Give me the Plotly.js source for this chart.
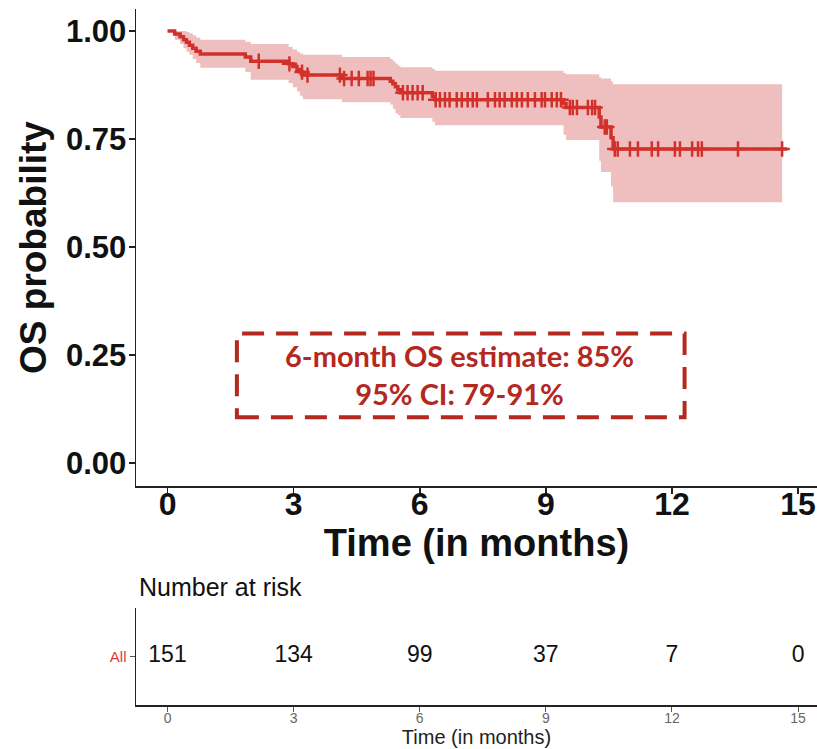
<!DOCTYPE html>
<html>
<head>
<meta charset="utf-8">
<script src="https://cdn.plot.ly/plotly-3.0.1.min.js"></script>
<style>html,body{margin:0;padding:0;background:#fff;}#chart{width:817px;height:749px;}</style>
</head>
<body>
<div id="chart"></div>
<script>
// Kaplan-Meier step curve (time in months, OS probability)
var kmTime = [0, 0.17, 0.3, 0.38, 0.45, 0.52, 0.6, 0.68, 0.78, 1.85, 1.98, 2.88, 2.98, 3.08, 3.15, 3.22, 4.15, 5.3, 5.36, 5.42, 5.48, 5.54, 6.3, 6.36, 9.42, 9.48, 10.27, 10.31, 10.55, 10.6, 14.74];
var kmSurv = [1, 0.993, 0.987, 0.980, 0.974, 0.967, 0.960, 0.953, 0.947, 0.940, 0.930, 0.924, 0.918, 0.911, 0.905, 0.898, 0.890, 0.884, 0.878, 0.871, 0.864, 0.857, 0.849, 0.841, 0.832, 0.823, 0.801, 0.778, 0.753, 0.727, 0.727];
// 95% confidence band
var bandTime = [0, 0.17, 0.3, 0.38, 0.45, 0.52, 0.6, 0.68, 0.78, 1.85, 1.98, 2.88, 2.98, 3.08, 3.15, 3.22, 4.15, 5.3, 5.36, 5.42, 5.48, 5.54, 6.3, 6.36, 9.42, 9.48, 10.27, 10.31, 10.55, 10.6, 14.62];
var bandUpper = [1, 1, 1, 1, 0.998, 0.995, 0.99, 0.985, 0.980, 0.975, 0.970, 0.963, 0.957, 0.952, 0.948, 0.945, 0.940, 0.935, 0.930, 0.925, 0.920, 0.916, 0.912, 0.908, 0.903, 0.900, 0.893, 0.890, 0.883, 0.877, 0.877];
var bandLower = [1, 0.98, 0.97, 0.96, 0.952, 0.945, 0.935, 0.926, 0.915, 0.905, 0.887, 0.880, 0.870, 0.860, 0.850, 0.842, 0.835, 0.830, 0.820, 0.810, 0.805, 0.799, 0.790, 0.782, 0.760, 0.748, 0.700, 0.674, 0.640, 0.604, 0.604];
// censoring times
var censorTime = [2.17, 2.9, 3.2, 3.33, 4.1, 4.2, 4.38, 4.55, 4.76, 4.83, 4.9, 5.6, 5.71, 5.83, 5.95, 6.07, 6.38, 6.48, 6.6, 6.71, 6.88, 7.0, 7.14, 7.26, 7.36, 7.62, 7.79, 7.9, 8.02, 8.19, 8.31, 8.43, 8.57, 8.74, 8.9, 8.98, 9.14, 9.26, 9.36, 9.57, 9.64, 9.74, 10.0, 10.1, 10.17, 10.4, 10.45, 10.64, 10.71, 11.0, 11.19, 11.52, 11.67, 12.07, 12.19, 12.48, 12.62, 12.71, 13.57, 14.62];
// risk table
var riskTimes = [0, 3, 6, 9, 12, 15];
var riskCounts = [151, 134, 99, 37, 7, 0];
var riskGroup = 'All';
var xTicks = [0, 3, 6, 9, 12, 15];
var yTicks = [0, 0.25, 0.5, 0.75, 1];
var boxLines = ['6-month OS estimate: 85%', '95% CI: 79-91%'];

function survAt(t) {
  var s = kmSurv[0];
  for (var i = 0; i < kmTime.length; i++) { if (kmTime[i] <= t) s = kmSurv[i]; }
  return s;
}

var RED = '#d2302b';
var BAND = '#efbfbf';
var BOX = '#b3281f';
var FONT = 'Liberation Sans, Arial, sans-serif';

var traces = [
  {x: bandTime, y: bandLower, type: 'scatter', mode: 'lines', line: {shape: 'hv', width: 0, color: BAND}, hoverinfo: 'skip', showlegend: false, xaxis: 'x', yaxis: 'y'},
  {x: bandTime, y: bandUpper, type: 'scatter', mode: 'lines', line: {shape: 'hv', width: 0, color: BAND}, fill: 'tonexty', fillcolor: BAND, hoverinfo: 'skip', showlegend: false, xaxis: 'x', yaxis: 'y'},
  {x: kmTime, y: kmSurv, type: 'scatter', mode: 'lines', line: {shape: 'hv', width: 3.5, color: RED}, showlegend: false, xaxis: 'x', yaxis: 'y'},
  {x: censorTime, y: censorTime.map(survAt), type: 'scatter', mode: 'markers', marker: {symbol: 'cross-thin', size: 11, line: {width: 2.5, color: RED}, color: RED}, showlegend: false, xaxis: 'x', yaxis: 'y'},
  {x: riskTimes, y: riskTimes.map(function(){return riskGroup;}), text: riskCounts.map(String), type: 'scatter', mode: 'text', textposition: 'middle center', textfont: {family: FONT, size: 23, color: '#111'}, showlegend: false, xaxis: 'x2', yaxis: 'y2'}
];

var layout = {
  width: 817, height: 749,
  margin: {l: 0, r: 0, t: 0, b: 0},
  paper_bgcolor: '#fff', plot_bgcolor: '#fff',
  showlegend: false,
  xaxis: {
    domain: [136/817, 1], range: [-0.75, 15.45], tickvals: xTicks, ticks: 'outside', ticklen: 6, tickwidth: 1.5, tickcolor: '#222',
    showline: true, linecolor: '#222', linewidth: 1.5, showgrid: false, zeroline: false,
    tickfont: {family: FONT, size: 32, color: '#111', weight: 'bold'}, ticklabelstandoff: -17,
    title: {text: 'Time (in months)', font: {family: FONT, size: 38, color: '#111', weight: 'bold'}, standoff: 2},
    anchor: 'y'
  },
  yaxis: {
    domain: [(749-486)/749, (749-9)/749], range: [-0.053, 1.051], tickvals: yTicks, tickformat: '.2f', ticks: 'outside', ticklen: 6, tickwidth: 1.5, tickcolor: '#222',
    showline: true, linecolor: '#222', linewidth: 1.5, showgrid: false, zeroline: false,
    tickfont: {family: FONT, size: 31, color: '#111', weight: 'bold'}, ticklabelstandoff: -4,
    title: {text: 'OS probability', font: {family: FONT, size: 37, color: '#111', weight: 'bold'}, standoff: 8},
    anchor: 'x'
  },
  xaxis2: {
    domain: [136/817, 1], range: [-0.75, 15.45], tickvals: xTicks, ticks: 'outside', ticklen: 5, tickwidth: 1, tickcolor: '#555',
    showline: true, linecolor: '#222', linewidth: 1.5, showgrid: false, zeroline: false,
    tickfont: {family: FONT, size: 14, color: '#666'}, ticklabelstandoff: -5,
    title: {text: 'Time (in months)', font: {family: FONT, size: 20, color: '#222'}, standoff: 4},
    anchor: 'y2'
  },
  yaxis2: {
    domain: [(749-705)/749, (749-608)/749], type: 'category', range: [-0.5, 0.5], ticks: 'outside', ticklen: 5, tickwidth: 1, tickcolor: '#555',
    showline: true, linecolor: '#222', linewidth: 1.5, showgrid: false, zeroline: false,
    tickfont: {family: FONT, size: 15, color: '#e0393e'},
    anchor: 'x2'
  },
  shapes: [
    {type: 'rect', xref: 'x', yref: 'y', x0: 1.65, x1: 12.3, y0: 0.106, y1: 0.30, line: {color: BOX, width: 4, dash: '22px,12px'}, fillcolor: 'rgba(0,0,0,0)'}
  ],
  annotations: [
    {xref: 'x', yref: 'y', x: 6.95, y: 0.204, text: boxLines.join('<br>'), showarrow: false, align: 'center', font: {family: 'Lato, Open Sans, sans-serif', size: 29, color: BOX, weight: 'bold'}},
    {xref: 'paper', yref: 'paper', x: 137/817, y: (749-587)/749, xanchor: 'left', yanchor: 'middle', text: 'Number at risk', showarrow: false, font: {family: FONT, size: 25, color: '#111'}}
  ]
};

Plotly.newPlot('chart', traces, layout, {displayModeBar: false, staticPlot: true});
</script>
</body>
</html>
